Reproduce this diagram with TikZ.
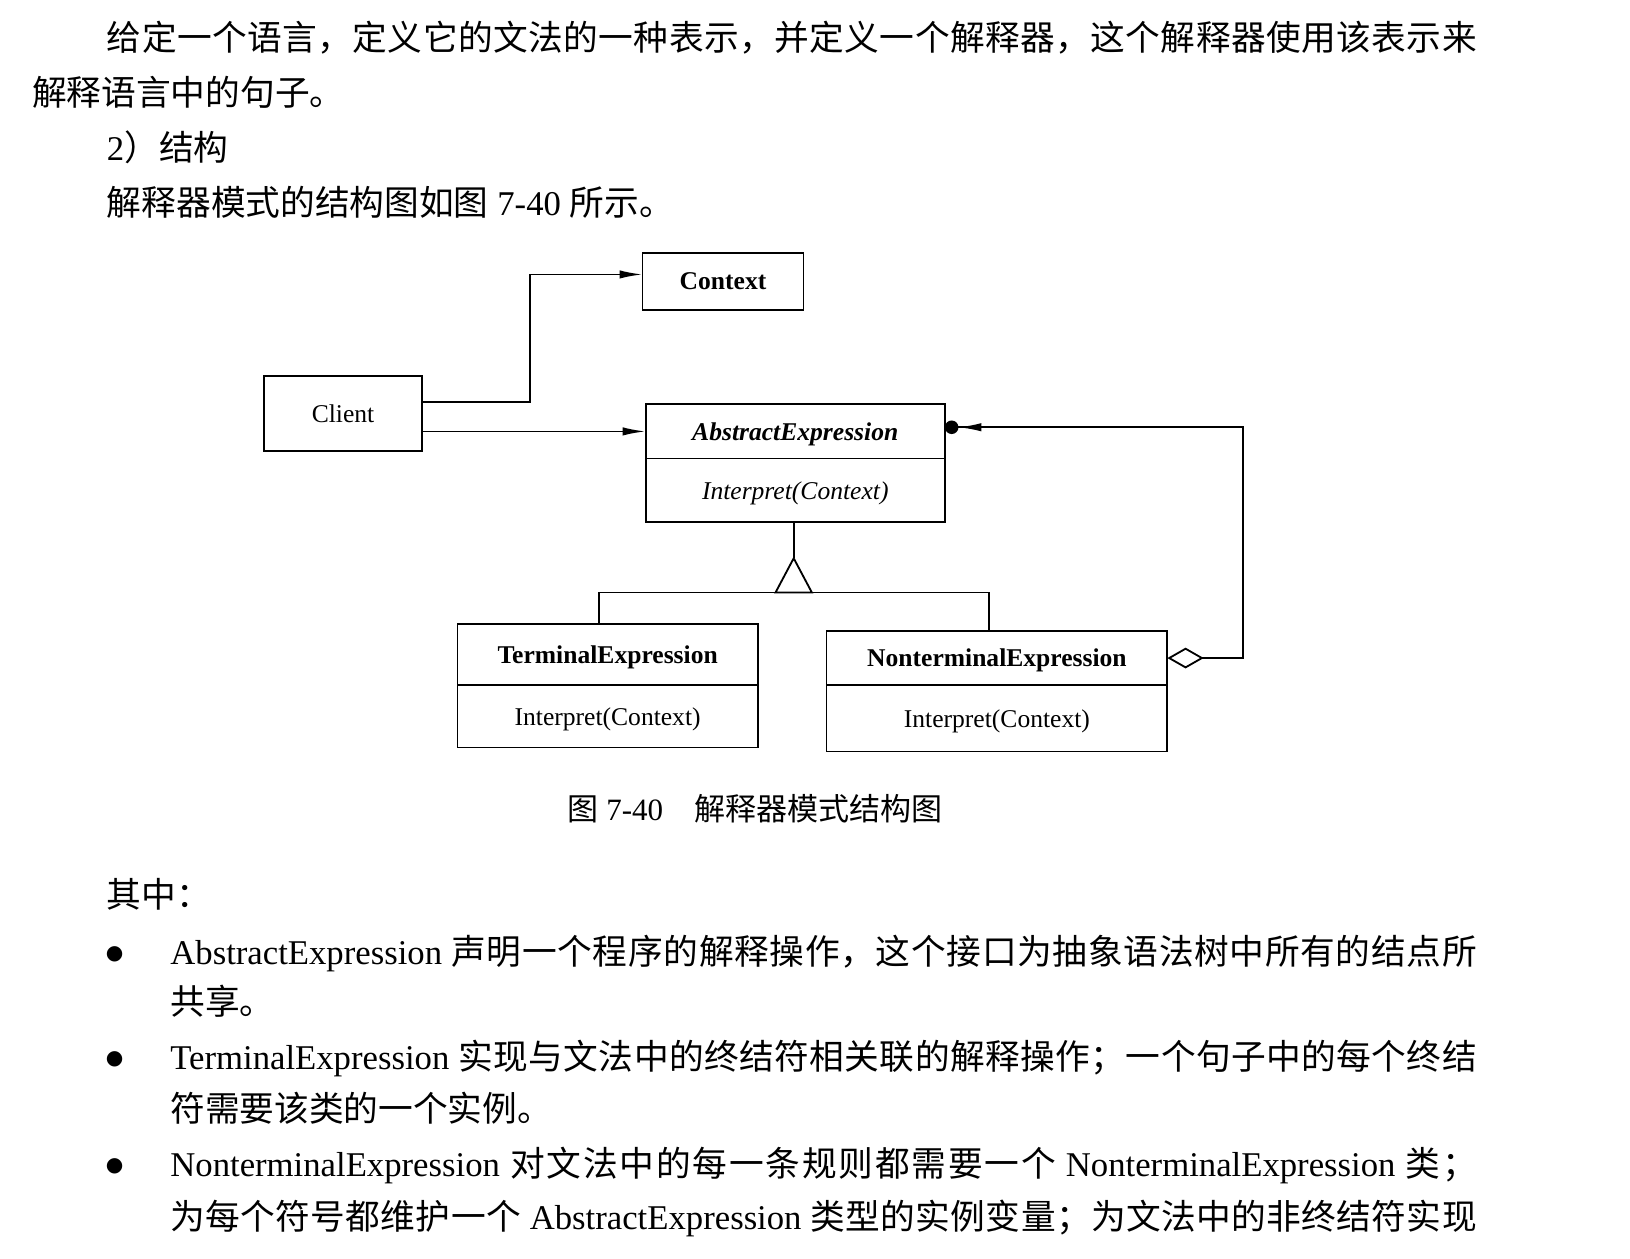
\documentclass[tikz,border=0pt]{standalone}
\usepackage{fontspec}
\setmainfont{Liberation Serif}
\newfontfamily\cjk{Noto Sans CJK SC}
\newfontfamily\dotfont{DejaVu Sans}
\usepackage{tikz}
\usetikzlibrary{arrows.meta,positioning}
% glue between Chinese characters, so that full lines can be justified
\newcount\hancode
\hancode="3000
\loop \XeTeXcharclass\hancode=7 \advance\hancode by 1 \ifnum\hancode<"3040 \repeat
\hancode="4E00
\loop \XeTeXcharclass\hancode=7 \advance\hancode by 1 \ifnum\hancode<"A000 \repeat
\hancode="FF00
\loop \XeTeXcharclass\hancode=7 \advance\hancode by 1 \ifnum\hancode<"FFF0 \repeat
\XeTeXinterchartoks 7 7 = {\hskip 0pt plus 3pt minus 0.6pt\relax}
\XeTeXinterchartokenstate=1

\begin{document}
\begin{tikzpicture}[x=0.02cm,y=-0.02cm,>={Latex[length=4.4mm,width=1.6mm]},line width=1pt,every node/.style={inner sep=0pt}]
\tikzstyle{para}=[anchor=base west,font=\fontsize{19}{23}\selectfont]
\tikzstyle{dot}=[anchor=base west,font=\dotfont\fontsize{11}{13}\selectfont]
\tikzstyle{cls}=[draw,outer sep=0pt,text depth=0pt,font=\fontsize{14}{16}\selectfont]
\tikzstyle{head}=[cls,font=\fontsize{14}{16}\selectfont\bfseries]
\useasboundingbox (0,0) rectangle (1568,1211);
% text before the figure
\node[para] (p1) at (102,49) {\makebox[26.36cm][s]{\cjk 给定一个语言，定义它的文法的一种表示，并定义一个解释器，这个解释器使用该表示来}};
\node[para] (p2) at (30,101) {\cjk 解释语言中的句子。};
\node[para] (p3) at (102,154) {2{\cjk ）结构}};
\node[para] (p4) at (102,207) {{\cjk 解释器模式的结构图如图} 7-40 {\cjk 所示。}};
% classes
\node[head,minimum width=3.1cm,minimum height=1.1cm] (ctx) at (695.5,270.5) {Context};
\node[cls,minimum width=3.04cm,minimum height=1.44cm] (cl) at (330,398) {Client};
\node[head,minimum width=5.76cm,minimum height=1.04cm,font=\fontsize{14}{16}\selectfont\bfseries\itshape] (absT) at (765,415) {AbstractExpression};
\node[cls,minimum width=5.76cm,minimum height=1.22cm,font=\fontsize{14}{16}\selectfont\itshape,below=0pt of absT] (absM) {Interpret(Context)};
\node[head,minimum width=5.78cm,minimum height=1.18cm] (termT) at (584.5,629.5) {TerminalExpression};
\node[cls,minimum width=5.78cm,minimum height=1.2cm,below=0pt of termT] (termM) {Interpret(Context)};
\node[head,minimum width=6.56cm,minimum height=1.04cm] (ntT) at (959,633) {NonterminalExpression};
\node[cls,minimum width=6.56cm,minimum height=1.28cm,below=0pt of ntT] (ntM) {Interpret(Context)};
% connectors
\coordinate (bend) at (510,264);
\draw[->] ([yshift=0.22cm]cl.east) -| (bend) -- (ctx.west |- bend);
\draw[->] (cl.east |- absT.west) -- (absT.west);
\coordinate (tip) at (763.5,537);
\coordinate (bus) at (763.5,570);
\draw (absM.south -| tip) -- (tip);
\draw (tip) -- ++(-17.5,33) -- ++(35,0) -- cycle;
\draw ([xshift=-0.17cm]termT.north) |- (bus) -| ([xshift=-0.16cm]ntT.north);
\coordinate (rail) at (1196,411);
\draw[{Diamond[open,length=7mm,width=4mm]}-{Latex[length=4.4mm,width=1.6mm]Circle[length=2.6mm]}] (ntT.east) -| (rail) -- (absT.east |- rail);
% caption
\node[anchor=base west,font=\fontsize{17}{20}\selectfont] (cap) at (545,789) {{\cjk 图} 7-40\hspace{1em}{\cjk 解释器模式结构图}};
% text after the figure
\node[para] (p5) at (102,873) {\cjk 其中：};
\node[dot] (b1) at (101,923) {●};
\node[para] (b1t) at (163,928) {\makebox[25.14cm][s]{AbstractExpression {\cjk 声明一个程序的解释操作，这个接口为抽象语法树中所有的结点所}}};
\node[para] (b1u) at (163,976) {\cjk 共享。};
\node[dot] (b2) at (101,1024) {●};
\node[para] (b2t) at (163,1029) {\makebox[25.14cm][s]{TerminalExpression {\cjk 实现与文法中的终结符相关联的解释操作；一个句子中的每个终结}}};
\node[para] (b2u) at (163,1079) {\cjk 符需要该类的一个实例。};
\node[dot] (b3) at (101,1127) {●};
\node[para] (b3t) at (163,1132) {\makebox[25.14cm][s]{NonterminalExpression {\cjk 对文法中的每一条规则都需要一个} NonterminalExpression {\cjk 类；}}};
\node[para] (b3u) at (163,1183) {\makebox[25.14cm][s]{{\cjk 为每个符号都维护一个} AbstractExpression {\cjk 类型的实例变量；为文法中的非终结符实现}}};
\end{tikzpicture}
\end{document}
